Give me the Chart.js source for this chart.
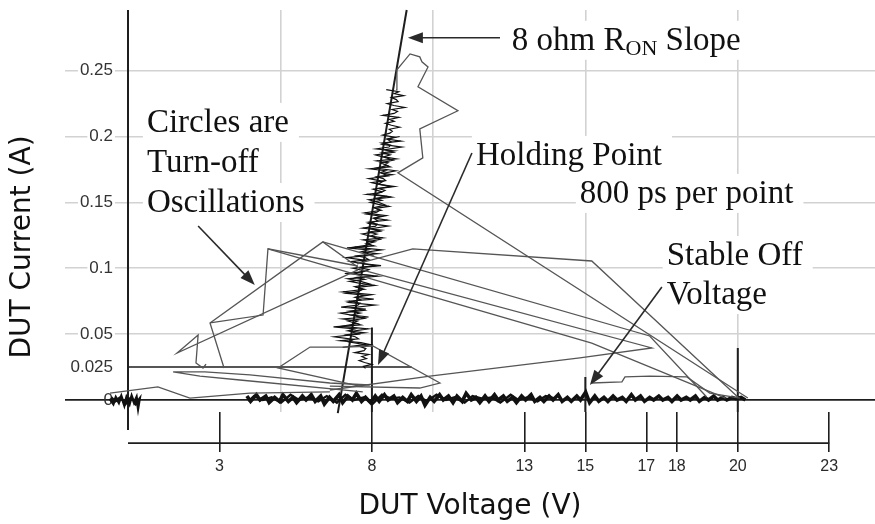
<!DOCTYPE html>
<html>
<head>
<meta charset="utf-8">
<script src="https://cdn.jsdelivr.net/npm/chart.js@4.4.1/dist/chart.umd.min.js"></script>
<style>
  html, body { margin: 0; padding: 0; background: #fff; overflow: hidden; }
  #wrap { position: relative; width: 875px; height: 524px; }
</style>
</head>
<body>
<div id="wrap"><canvas id="grafico" width="875" height="524"></canvas></div>
<script>
// ---------- eixos ----------
const xTickValues = [3, 8, 13, 15, 17, 18, 20, 23];
const xTickBig = [15, 17, 20];
const yTickValues = [0, 0.025, 0.05, 0.1, 0.15, 0.2, 0.25];
const gridV = [5, 10, 15, 20];

// ---------- linhas de referência (V, A) ----------
const ronSlope = [[6.88, -0.0099], [9.14, 0.296]];
const holdLine = [[0, 0.025], [9.3, 0.025]];
const yAxisLine = [[0, -0.0228], [0, 0.296]];
const bottomAxis = [[0, -0.0327], [23, -0.0327]];
const mark8 = [[8, 0.055], [8, -0.0091]];
const mark15 = [[15, 0.0175], [15, -0.0091]];
const mark20 = [[20, 0.0395], [20, -0.0091]];

// ---------- oscilações de desligamento (cinza) ----------
const oscTop = [[8.79, 0.2354], [8.82, 0.2506], [8.98, 0.2551], [9.25, 0.2627], [9.57, 0.2604], [9.64, 0.2567],
  [9.84, 0.2528], [9.51, 0.2377], [10.82, 0.2195], [9.57, 0.2058], [9.67, 0.1838], [8.85, 0.1724], [20.33, 0.0015]];
const oscQ = [[20.0, 0.0023], [15.21, 0.1055], [9.34, 0.1147], [7.51, 0.1033]];
const oscA = [[3.15, 0.0243], [2.69, 0.0585], [6.39, 0.1200], [7.67, 0.0987]];
const oscA2 = [[2.69, 0.0585], [4.43, 0.0645], [4.59, 0.1147], [7.54, 0.1017]];
const oscB = [[7.54, 0.0987], [1.61, 0.0357], [2.30, 0.0494], [2.23, 0.0281], [2.46, 0.0243], [2.56, 0.0273]];
const oscLow = [[-0.59, 0.0053], [0.98, 0.0099], [2.03, 0.0015], [4.0, 0.0053], [6.62, 0.0061]];
const oscLoop = [[7.70, 0.0061], [3.67, 0.0152], [2.36, 0.0182], [1.48, 0.0213], [2.52, 0.0213], [4.0, 0.019],
  [6.62, 0.0129], [7.93, 0.0114]];
const oscPlateau = [[7.70, 0.0099], [4.92, 0.0243], [5.97, 0.0402], [7.11, 0.0402], [8.03, 0.041], [10.23, 0.0129],
  [9.57, 0.0091], [6.62, 0.0106]];
const oscTip = [[6.62, 0.0076], [9.90, 0.0182], [14.82, 0.0319], [17.18, 0.0395], [7.67, 0.0987]];
const oscWedge = [[6.39, 0.1200], [17.11, 0.0486], [18.98, 0.0023]];
const oscWedge2 = [[4.59, 0.1147], [15.21, 0.0432], [19.6, 0.0015]];
const oscSteps = [[15.21, 0.0129], [16.2, 0.0137], [16.3, 0.0175], [17.11, 0.0182], [18.33, 0.0175], [19.08, 0.0053], [20.07, 0.0015]];

// ---------- ruído no estado ligado (preto), subida ----------
const onState = [
  [7.79, 0.0240], [7.72, 0.0255], [8.00, 0.0270], [7.76, 0.0285], [7.58, 0.0300], [7.82, 0.0315], [7.67, 0.0330],
  [7.90, 0.0345], [7.44, 0.0360], [7.74, 0.0375], [7.80, 0.0390], [7.62, 0.0405], [7.96, 0.0420], [7.64, 0.0435],
  [6.96, 0.0450], [7.56, 0.0465], [7.45, 0.0480], [7.17, 0.0495], [7.75, 0.0510], [7.21, 0.0525], [7.45, 0.0540],
  [6.74, 0.0555], [7.63, 0.0570], [7.38, 0.0585], [7.53, 0.0600], [7.04, 0.0615], [7.89, 0.0630], [7.35, 0.0645],
  [7.62, 0.0660], [7.26, 0.0675], [7.80, 0.0690], [6.99, 0.0705], [7.54, 0.0720], [7.61, 0.0735], [7.24, 0.0750],
  [8.06, 0.0765], [7.47, 0.0780], [7.77, 0.0795], [7.16, 0.0810], [7.57, 0.0825], [7.69, 0.0840], [7.52, 0.0855],
  [8.09, 0.0870], [7.62, 0.0885], [7.27, 0.0900], [7.76, 0.0915], [7.49, 0.0930], [8.00, 0.0945], [7.11, 0.0960],
  [7.73, 0.0975], [7.90, 0.0990], [7.59, 0.1005], [8.30, 0.1020], [7.69, 0.1035], [7.30, 0.1050], [7.90, 0.1065],
  [7.79, 0.1080], [7.51, 0.1095], [8.19, 0.1110], [7.65, 0.1125], [7.89, 0.1140], [7.18, 0.1155], [8.07, 0.1170],
  [7.82, 0.1185], [8.09, 0.1200], [7.72, 0.1215], [8.36, 0.1230], [7.96, 0.1245], [8.16, 0.1260], [7.89, 0.1275],
  [8.30, 0.1290], [7.70, 0.1305], [8.12, 0.1320], [8.17, 0.1335], [7.89, 0.1350], [8.51, 0.1365], [8.07, 0.1380],
  [8.30, 0.1395], [7.84, 0.1410], [8.16, 0.1425], [8.25, 0.1440], [8.12, 0.1455], [8.56, 0.1470], [8.21, 0.1485],
  [7.95, 0.1500], [8.32, 0.1515], [8.11, 0.1530], [8.50, 0.1545], [7.83, 0.1560], [8.30, 0.1575], [8.43, 0.1590],
  [8.21, 0.1605], [8.74, 0.1620], [8.28, 0.1635], [7.99, 0.1650], [8.45, 0.1665], [8.37, 0.1680], [8.16, 0.1695],
  [8.67, 0.1710], [8.27, 0.1725], [8.45, 0.1740], [7.92, 0.1755], [8.60, 0.1770], [8.41, 0.1785], [8.53, 0.1800],
  [8.16, 0.1815], [8.80, 0.1830], [8.40, 0.1845], [8.60, 0.1860], [8.33, 0.1875], [8.74, 0.1890], [8.14, 0.1905],
  [8.56, 0.1920], [8.61, 0.1935], [8.33, 0.1950], [8.95, 0.1965], [8.51, 0.1980], [8.74, 0.1995], [8.35, 0.2010],
  [8.59, 0.2025], [8.67, 0.2040], [8.57, 0.2055], [8.91, 0.2070], [8.64, 0.2085], [8.44, 0.2100], [8.73, 0.2115],
  [8.58, 0.2130], [8.88, 0.2145], [8.36, 0.2160], [8.73, 0.2175], [8.84, 0.2190], [8.66, 0.2205], [9.08, 0.2220],
  [8.72, 0.2235], [8.50, 0.2250], [8.86, 0.2265], [8.80, 0.2280], [8.64, 0.2295], [9.04, 0.2310], [8.73, 0.2325],
  [8.88, 0.2340], [8.47, 0.2355]];

// ---------- ruído no estado ligado, segunda passagem (descida) ----------
const onStateBack = [
  [8.91, 0.200], [8.50, 0.198], [8.63, 0.196], [8.34, 0.194], [8.98, 0.192], [8.42, 0.190], [8.71, 0.188],
  [8.12, 0.186], [8.45, 0.184], [8.70, 0.182], [8.28, 0.180], [8.51, 0.178], [8.12, 0.176], [8.78, 0.174],
  [8.34, 0.172], [8.53, 0.170], [7.90, 0.168], [8.37, 0.166], [8.21, 0.164], [8.61, 0.162], [8.04, 0.160],
  [8.33, 0.158], [8.08, 0.156], [8.64, 0.154], [7.90, 0.152], [8.22, 0.150], [8.44, 0.148], [8.06, 0.146],
  [8.30, 0.144], [7.76, 0.142], [8.47, 0.140], [8.06, 0.138], [8.19, 0.136], [7.90, 0.134], [8.54, 0.132],
  [7.98, 0.130], [8.27, 0.128], [7.68, 0.126], [8.01, 0.124], [8.27, 0.122], [7.84, 0.120], [7.95, 0.118],
  [7.44, 0.116], [8.32, 0.114], [7.75, 0.112], [8.00, 0.110], [7.16, 0.108], [7.79, 0.106], [7.59, 0.104],
  [8.12, 0.102], [7.38, 0.100], [7.77, 0.098], [7.43, 0.096], [8.19, 0.094], [7.21, 0.092], [7.63, 0.090],
  [7.94, 0.088], [7.44, 0.086], [7.75, 0.084], [7.05, 0.082], [8.00, 0.080], [7.46, 0.078], [7.63, 0.076],
  [7.25, 0.074], [8.10, 0.072], [7.36, 0.070], [7.75, 0.068], [6.97, 0.066], [7.42, 0.064], [7.76, 0.062],
  [7.21, 0.060], [7.52, 0.058], [7.00, 0.056], [7.88, 0.054], [7.31, 0.052], [7.56, 0.050], [6.77, 0.048],
  [7.40, 0.046], [7.25, 0.044], [7.78, 0.042], [7.04, 0.040]];

// ---------- ruído na tensão de bloqueio (preto) ----------
const baseV = [3.90, 4.02, 4.21, 4.33, 4.52, 4.63, 4.81, 4.97, 5.08, 5.26,
  5.41, 5.53, 5.72, 5.84, 6.01, 6.14, 6.32, 6.44, 6.61, 6.73,
  6.92, 7.04, 7.21, 7.36, 7.49, 7.66, 7.79, 7.96, 8.11, 8.24,
  8.41, 8.53, 8.72, 8.84, 9.01, 9.16, 9.29, 9.46, 9.61, 9.74,
  9.91, 10.04, 10.22, 10.34, 10.51, 10.66, 10.79, 10.96, 11.09, 11.26,
  11.41, 11.54, 11.71, 11.84, 12.02, 12.14, 12.31, 12.44, 12.61, 12.74,
  12.91, 13.04, 13.22, 13.34, 13.51, 13.64, 13.81, 13.94, 14.11, 14.24,
  14.41, 14.54, 14.72, 14.84, 15.01, 15.14, 15.31, 15.44, 15.61, 15.74,
  15.91, 16.04, 16.21, 16.34, 16.51, 16.64, 16.81, 16.94, 17.11, 17.24,
  17.41, 17.54, 17.71, 17.84, 18.01, 18.14, 18.31, 18.44, 18.61, 18.74,
  18.91, 19.04, 19.21, 19.34, 19.51, 19.64, 19.81, 19.94, 20.11, 20.25];
const baseI = [0.003, -0.001, 0.004, 0.000, 0.003, -0.002, 0.002, -0.001, 0.004, -0.001,
  0.002, -0.002, 0.003, 0.000, 0.004, -0.001, 0.003, -0.003, 0.002, -0.001,
  0.004, -0.002, 0.003, 0.000, 0.005, -0.001, 0.002, -0.002, 0.003, -0.001,
  0.004, 0.000, 0.003, -0.002, 0.002, -0.001, 0.004, -0.001, 0.003, -0.004,
  0.002, -0.001, 0.004, 0.000, 0.003, -0.002, 0.003, -0.001, 0.005, 0.000,
  0.002, -0.002, 0.003, -0.001, 0.004, 0.000, 0.003, -0.001, 0.002, -0.002,
  0.003, 0.000, 0.004, -0.001, 0.002, -0.001, 0.003, 0.000, 0.004, -0.001,
  0.002, -0.001, 0.003, 0.000, 0.006, -0.002, 0.003, -0.001, 0.002, -0.001,
  0.003, 0.000, 0.002, -0.001, 0.004, 0.000, 0.003, -0.001, 0.002, 0.000,
  0.003, 0.000, 0.002, -0.001, 0.003, 0.000, 0.002, 0.000, 0.003, -0.001,
  0.002, 0.000, 0.003, 0.000, 0.002, 0.000, 0.002, 0.001, 0.002, 0.000];

// segunda passagem do ruído de bloqueio, de volta (V, A)
const baseBack = [[14.02, 0.001], [13.70, 0.003], [13.43, -0.001], [13.12, 0.002], [12.80, 0.000], [12.55, 0.004],
  [12.21, -0.002], [11.93, 0.002], [11.62, 0.001], [11.30, 0.003], [11.04, -0.002], [10.71, 0.002], [10.43, 0.000],
  [10.12, 0.004], [9.80, -0.001], [9.52, 0.003], [9.23, -0.002], [8.90, 0.002], [8.62, 0.001], [8.33, 0.004],
  [8.02, -0.003], [7.74, 0.002], [7.42, 0.000], [7.13, 0.004], [6.85, -0.002], [6.52, 0.003], [6.24, -0.001],
  [5.93, 0.002], [5.61, 0.000], [5.33, 0.004], [5.02, -0.002], [4.71, 0.002], [4.42, 0.000], [4.13, 0.003], [3.95, -0.001]];

// ---------- ruído perto da origem ----------
const originNoise = [[-0.60, 0.001], [-0.48, -0.003], [-0.40, 0.002], [-0.30, -0.002], [-0.22, 0.003], [-0.12, -0.004],
  [-0.05, 0.002], [0.05, -0.003], [0.12, 0.003], [0.20, -0.002], [0.28, 0.002], [0.33, -0.006], [0.38, 0.001],
  [0.25, -0.003], [0.10, 0.002], [-0.08, -0.003], [-0.25, 0.002], [-0.42, -0.001], [-0.55, 0.002]];

// ---------- anotações ----------
const notas = [
  { v: 12.59, i: 0.2658, runs: [['8 ohm R', false], ['ON', true], [' Slope', false]] },
  { v: 0.62, i: 0.2035, runs: [['Circles are', false]] },
  { v: 0.62, i: 0.1731, runs: [['Turn-off', false]] },
  { v: 0.62, i: 0.1427, runs: [['Oscillations', false]] },
  { v: 11.41, i: 0.1784, runs: [['Holding Point', false]] },
  { v: 14.82, i: 0.1496, runs: [['800 ps per point', false]] },
  { v: 17.67, i: 0.1025, runs: [['Stable Off', false]] },
  { v: 17.67, i: 0.0729, runs: [['Voltage', false]] }
];
const setas = [
  { de: [12.20, 0.2749], para: [9.18, 0.2749] },
  { de: [2.30, 0.1321], para: [4.16, 0.0873] },
  { de: [11.28, 0.1875], para: [8.20, 0.0266] },
  { de: [17.51, 0.0858], para: [15.15, 0.0114] }
];

// Converte pares [V, A] em pontos do Chart.js
const pts = arr => arr.map(([x, y]) => ({ x: x, y: y }));

// Cria um dataset de linha sem marcadores
function linha(data, cor, largura, extra) {
  return Object.assign({
    data: pts(data),
    showLine: true,
    borderColor: cor,
    borderWidth: largura,
    pointRadius: 0,
    fill: false
  }, extra || {});
}

const cinza = '#555555';
const escuro = '#1e1e1e';

const datasets = [
  linha(oscLow, cinza, 1.3, { clip: false }),
  linha(oscLoop, cinza, 1.3),
  linha(oscPlateau, cinza, 1.3),
  linha(oscTip, cinza, 1.3),
  linha(oscWedge, cinza, 1.3),
  linha(oscWedge2, cinza, 1.3),
  linha(oscSteps, cinza, 1.3),
  linha(oscA, cinza, 1.3),
  linha(oscA2, cinza, 1.3),
  linha(oscB, cinza, 1.3),
  linha(oscQ, cinza, 1.3),
  linha(oscTop, cinza, 1.3),
  linha(baseV.map((v, k) => [v, baseI[k]]), '#111', 3.6),
  linha(baseBack, '#111', 2.4),
  linha(originNoise, '#111', 2.6, { clip: false }),
  linha(onState, '#111', 1.2),
  linha(onStateBack, '#111', 1.2),
  linha(holdLine, escuro, 1.6),
  linha(ronSlope, escuro, 2, { clip: false }),
  linha(yAxisLine, escuro, 2, { clip: false }),
  linha(bottomAxis, escuro, 1.6, { clip: false }),
  linha(mark8, escuro, 2, { clip: false }),
  linha(mark15, escuro, 2, { clip: false }),
  linha(mark20, escuro, 2, { clip: false })
];

// Plugin para textos, setas e títulos dos eixos
const anotacoes = {
  id: 'anotacoes',
  beforeDatasetsDraw(chart) {
    const { ctx, scales: { x, y } } = chart;
    const fonteNormal = '33px "Liberation Serif", "Times New Roman", serif';
    const fonteSub = '22px "Liberation Serif", "Times New Roman", serif';
    ctx.save();
    ctx.textBaseline = 'alphabetic';
    ctx.textAlign = 'left';
    notas.forEach(n => {
      const px = x.getPixelForValue(n.v);
      const py = y.getPixelForValue(n.i);
      let largura = 0;
      n.runs.forEach(([t, sub]) => { ctx.font = sub ? fonteSub : fonteNormal; largura += ctx.measureText(t).width; });
      ctx.fillStyle = '#fff';
      ctx.fillRect(px - 4, py - 29, largura + 14, 39);
      let cx = px;
      n.runs.forEach(([t, sub]) => {
        ctx.font = sub ? fonteSub : fonteNormal;
        ctx.fillStyle = '#111';
        ctx.fillText(t, cx, sub ? py + 5 : py);
        cx += ctx.measureText(t).width;
      });
    });
    ctx.restore();
  },
  afterDatasetsDraw(chart) {
    const { ctx, scales: { x, y } } = chart;
    ctx.save();
    ctx.strokeStyle = '#2a2a2a';
    ctx.fillStyle = '#2a2a2a';
    ctx.lineWidth = 1.6;
    setas.forEach(s => {
      const x0 = x.getPixelForValue(s.de[0]), y0 = y.getPixelForValue(s.de[1]);
      const x1 = x.getPixelForValue(s.para[0]), y1 = y.getPixelForValue(s.para[1]);
      const ang = Math.atan2(y1 - y0, x1 - x0);
      const comp = 15, meia = 5.5;
      ctx.beginPath();
      ctx.moveTo(x0, y0);
      ctx.lineTo(x1 - Math.cos(ang) * comp * 0.8, y1 - Math.sin(ang) * comp * 0.8);
      ctx.stroke();
      ctx.beginPath();
      ctx.moveTo(x1, y1);
      ctx.lineTo(x1 - Math.cos(ang) * comp - Math.sin(ang) * meia, y1 - Math.sin(ang) * comp + Math.cos(ang) * meia);
      ctx.lineTo(x1 - Math.cos(ang) * comp + Math.sin(ang) * meia, y1 - Math.sin(ang) * comp - Math.cos(ang) * meia);
      ctx.closePath();
      ctx.fill();
    });
    ctx.restore();
  },
  afterDraw(chart) {
    const { ctx } = chart;
    ctx.save();
    ctx.font = '28px "DejaVu Sans", Verdana, sans-serif';
    ctx.fillStyle = '#111';
    ctx.textAlign = 'center';
    ctx.textBaseline = 'middle';
    ctx.fillText('DUT Voltage (V)', 470, 507);
    ctx.translate(23, 247);
    ctx.rotate(-Math.PI / 2);
    ctx.fillText('DUT Current (A)', 0, 0);
    ctx.restore();
  }
};

const ctx = document.getElementById('grafico').getContext('2d');
window.myChart = new Chart(ctx, {
  type: 'scatter',
  data: { datasets: datasets },
  options: {
    responsive: false,
    animation: false,
    devicePixelRatio: 1,
    layout: { padding: { top: 10, left: 0, right: 0, bottom: 0 } },
    plugins: { legend: { display: false }, tooltip: { enabled: false } },
    elements: { line: { tension: 0 } },
    scales: {
      x: {
        type: 'linear', min: 0, max: 24.5, position: 'bottom',
        afterBuildTicks: s => { s.ticks = xTickValues.map(v => ({ value: v })); },
        afterFit: s => { s.height = 112; },
        ticks: {
          autoSkip: false, maxRotation: 0, padding: 5, color: '#2a2a2a',
          font: c => (c.tick && xTickBig.includes(c.tick.value))
            ? { family: "'Liberation Sans', Arial", size: 16 }
            : { family: "'Liberation Sans Narrow', 'Liberation Sans', Arial", size: 16 },
          callback: v => String(v)
        },
        grid: { drawOnChartArea: false, drawTicks: true, tickLength: 40, color: escuro, lineWidth: 1.6 },
        border: { display: false }
      },
      xg: {
        type: 'linear', min: 0, max: 24.5, position: 'bottom',
        afterBuildTicks: s => { s.ticks = gridV.map(v => ({ value: v })); },
        afterFit: s => { s.height = 0; },
        ticks: { display: false },
        grid: { color: '#d2d2d2', lineWidth: 1.6, drawTicks: false },
        border: { display: false }
      },
      y: {
        type: 'linear', min: -0.0091, max: 0.296, position: 'left',
        afterBuildTicks: s => { s.ticks = yTickValues.map(v => ({ value: v })); },
        afterFit: s => { s.width = 128; },
        ticks: {
          padding: -48, color: '#333',
          font: { family: "'Liberation Sans', Arial", size: 17 },
          showLabelBackdrop: true,
          backdropColor: c => (c.tick && c.tick.value === 0) ? 'rgba(0,0,0,0)' : '#fff',
          backdropPadding: { x: 2, y: 0 },
          callback: v => String(v)
        },
        grid: {
          tickLength: 63,
          color: c => {
            const v = c.tick ? c.tick.value : null;
            if (v === 0) return escuro;
            if (v === 0.025) return 'rgba(0,0,0,0)';
            return '#d2d2d2';
          },
          lineWidth: c => (c.tick && c.tick.value === 0) ? 1.8 : 1.6
        },
        border: { display: false }
      }
    }
  },
  plugins: [anotacoes]
});
</script>
</body>
</html>
